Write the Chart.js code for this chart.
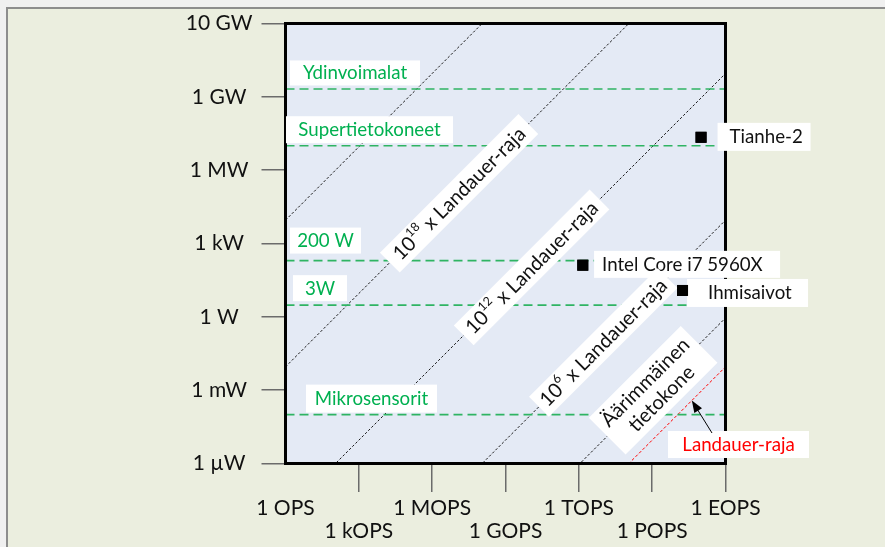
<!DOCTYPE html>
<html>
<head>
<meta charset="utf-8">
<script src="https://cdn.jsdelivr.net/npm/chart.js@4.4.1/dist/chart.umd.min.js"></script>
<style>
  html, body { margin: 0; padding: 0; background: #f0f0f0; overflow: hidden; }
  #frame { position: absolute; left: 6px; top: 7px; width: 900px; height: 560px;
           background: #ebeedf; border-top: 2px solid #8d8d8d; border-left: 2px solid #8d8d8d; }
  #wrap { position: absolute; left: 0; top: 0; width: 885px; height: 547px; }
</style>
</head>
<body>
<div id="frame"></div>
<div id="wrap"><canvas id="c" width="885" height="547"></canvas></div>
<script>
// Computing speed (operations per second) against power draw (W), both on log axes
const OPS_TICKS = [1, 1e3, 1e6, 1e9, 1e12, 1e15, 1e18];
const OPS_TICK_LABELS = ['1 OPS', '1 kOPS', '1 MOPS', '1 GOPS', '1 TOPS', '1 POPS', '1 EOPS'];
const POWER_TICKS = [1e-6, 1e-3, 1, 1e3, 1e6, 1e9, 1e12];
const POWER_TICK_LABELS = ['1 \u00b5W', '1 mW', '1 W', '1 kW', '1 MW', '1 GW', '10 GW'];

// Typical power levels (W)
const LEVEL_NAMES = ['Ydinvoimalat', 'Supertietokoneet', '200 W', '3W', 'Mikrosensorit'];
const LEVEL_WATTS = [2.1e9, 1e7, 200, 3, 1e-4];

// Landauer limit: energy per operation (J) and the multiples drawn as diagonals
const LANDAUER_JOULES = 9e-21;
const LIMIT_MULTIPLIERS = [1, 1e2, 1e6, 1e12, 1e18, 1e24];

// Individual systems
const SYSTEM_NAMES = ['Tianhe-2', 'Intel Core i7 5960X', 'Ihmisaivot'];
const SYSTEM_OPS = [1e17, 1.45e12, 1.75e16];
const SYSTEM_WATTS = [2.2e7, 130, 12];

// ---- styling and label layout ----
const GREEN = '#00b050';
const FONT = 'Lato';
const OPS_MIN = OPS_TICKS[0], OPS_MAX = OPS_TICKS[OPS_TICKS.length - 1];

// label boxes for the power levels: offset from plot's left edge, gap above the line
const levelBoxes = [
  { dx: 4.5,  w: 130, h: 25, gap: 3.5 },
  { dx: 0.5,  w: 167, h: 27, gap: 2.5 },
  { dx: 4.5,  w: 71,  h: 26, gap: 7 },
  { dx: 7.5,  w: 54,  h: 26, gap: 4 },
  { dx: 20.5, w: 131, h: 28, gap: 2 }
];
// label boxes next to the system markers (relative to the marker centre)
const systemBoxes = [
  { dx: 16.5, dy: -14.5, w: 93,  h: 28, pad: 12 },
  { dx: 11.3, dy: -14.3, w: 186, h: 27, pad: 8 },
  { dx: 4.5,  dy: -11.5, w: 121, h: 28, pad: 21 }
];
// labels laid along the diagonal lines
const limitLabels = [
  { mult: 1e18, atOps: 1.26e7,  w: 196, h: 28, lines: [[{ t: '10' }, { t: '18', sup: true }, { t: ' x Landauer-raja' }]] },
  { mult: 1e12, atOps: 1.17e10, w: 192, h: 28, lines: [[{ t: '10' }, { t: '12', sup: true }, { t: ' x Landauer-raja' }]] },
  { mult: 1e6,  atOps: 1.0e13,  w: 182, h: 28, lines: [[{ t: '10' }, { t: '6', sup: true }, { t: ' x Landauer-raja' }]] },
  { mult: 1e2,  atOps: 1.1e15,  w: 130, h: 52, lines: [[{ t: '\u00c4\u00e4rimm\u00e4inen' }], [{ t: 'tietokone' }]] }
];
const limitNote = { text: 'Landauer-raja', dx: -57.5, dy: -32.5, w: 141, h: 27, arrowOps: 4.2e16, tailDx: 44, tailDy: 2 };

// ---- datasets ----
const datasets = [];
datasets.push({
  type: 'scatter',
  data: SYSTEM_OPS.map((x, i) => ({ x, y: SYSTEM_WATTS[i] })),
  pointStyle: 'rect', pointRadius: 7.8, backgroundColor: '#000', borderColor: '#000', borderWidth: 0
});
LEVEL_WATTS.forEach(w => datasets.push({
  type: 'line',
  data: [{ x: OPS_MIN, y: w }, { x: OPS_MAX, y: w }],
  borderColor: '#2fb463', borderWidth: 1.6, borderDash: [9, 5], pointRadius: 0
}));
LIMIT_MULTIPLIERS.forEach(m => datasets.push({
  type: 'line',
  data: [{ x: OPS_MIN, y: m * LANDAUER_JOULES * OPS_MIN }, { x: OPS_MAX, y: m * LANDAUER_JOULES * OPS_MAX }],
  borderColor: m === 1 ? '#ff0000' : '#1a1a1a', borderWidth: 1, borderDash: m === 1 ? [3, 2] : [2.5, 2], pointRadius: 0
}));

// ---- drawing helpers ----
function whiteBox(ctx, x, y, w, h) { ctx.fillStyle = '#ffffff'; ctx.fillRect(x, y, w, h); }

function richWidth(ctx, segs, size) {
  let w = 0;
  segs.forEach(s => { ctx.font = (s.sup ? size * 0.62 : size) + 'px ' + FONT; w += ctx.measureText(s.t).width; });
  return w;
}
function drawRich(ctx, segs, cx, cy, size) {
  let x = cx - richWidth(ctx, segs, size) / 2;
  ctx.textAlign = 'left'; ctx.textBaseline = 'middle';
  segs.forEach(s => {
    ctx.font = (s.sup ? size * 0.62 : size) + 'px ' + FONT;
    ctx.fillText(s.t, x, s.sup ? cy - size * 0.38 : cy);
    x += ctx.measureText(s.t).width;
  });
}

const overlay = {
  id: 'overlay',
  beforeDraw(chart) {
    const { ctx, chartArea: a } = chart;
    ctx.save();
    ctx.fillStyle = '#e4eaf5';
    ctx.fillRect(a.left, a.top, a.width, a.height);
    ctx.restore();
  },
  afterDatasetsDraw(chart) {
    const { ctx, chartArea: a, scales: { x: xs, y: ys } } = chart;
    ctx.save();
    // plot frame
    ctx.strokeStyle = '#000'; ctx.lineWidth = 3;
    ctx.strokeRect(a.left, a.top, a.width, a.height);

    // power level captions
    LEVEL_NAMES.forEach((name, i) => {
      const b = levelBoxes[i];
      const ly = ys.getPixelForValue(LEVEL_WATTS[i]);
      const bx = a.left + b.dx, by = ly - b.gap - b.h;
      whiteBox(ctx, bx, by, b.w, b.h);
      ctx.fillStyle = GREEN; ctx.font = '18.7px ' + FONT;
      ctx.textAlign = 'center'; ctx.textBaseline = 'middle';
      ctx.fillText(name, bx + b.w / 2, by + b.h / 2 + 0.5);
    });

    // system captions
    SYSTEM_NAMES.forEach((name, i) => {
      const b = systemBoxes[i];
      const px = xs.getPixelForValue(SYSTEM_OPS[i]), py = ys.getPixelForValue(SYSTEM_WATTS[i]);
      const bx = px + b.dx, by = py + b.dy;
      whiteBox(ctx, bx, by, b.w, b.h);
      ctx.fillStyle = '#111'; ctx.font = '18.7px ' + FONT;
      ctx.textAlign = 'left'; ctx.textBaseline = 'middle';
      ctx.fillText(name, bx + b.pad, by + b.h / 2 + 0.5);
    });

    // labels along the diagonals
    limitLabels.forEach(l => {
      const e = l.mult * LANDAUER_JOULES;
      const cx = xs.getPixelForValue(l.atOps), cy = ys.getPixelForValue(e * l.atOps);
      const x2 = xs.getPixelForValue(l.atOps * 10), y2 = ys.getPixelForValue(e * l.atOps * 10);
      const ang = Math.atan2(y2 - cy, x2 - cx);
      ctx.save();
      ctx.translate(cx, cy); ctx.rotate(ang);
      whiteBox(ctx, -l.w / 2, -l.h / 2, l.w, l.h);
      ctx.fillStyle = '#111';
      const n = l.lines.length, lh = 23;
      l.lines.forEach((segs, k) => drawRich(ctx, segs, 0, (k - (n - 1) / 2) * lh + 0.5, 20));
      ctx.restore();
    });

    // system markers stay on top of the caption boxes
    const pts = chart.getDatasetMeta(0).data;
    ctx.fillStyle = '#000';
    pts.forEach(p => ctx.fillRect(p.x - 5.5, p.y - 5.5, 11, 11));

    // Landauer limit note with arrow
    const nx = a.right + limitNote.dx, ny = a.bottom + limitNote.dy;
    whiteBox(ctx, nx, ny, limitNote.w, limitNote.h);
    ctx.fillStyle = '#ff0000'; ctx.font = '18.7px ' + FONT;
    ctx.textAlign = 'center'; ctx.textBaseline = 'middle';
    ctx.fillText(limitNote.text, nx + limitNote.w / 2, ny + limitNote.h / 2 + 0.5);
    const tx = nx + limitNote.tailDx, ty = ny + limitNote.tailDy;
    const hx = xs.getPixelForValue(limitNote.arrowOps), hy = ys.getPixelForValue(LANDAUER_JOULES * limitNote.arrowOps);
    const ang = Math.atan2(hy - ty, hx - tx);
    ctx.strokeStyle = '#000'; ctx.lineWidth = 1; ctx.setLineDash([]);
    ctx.beginPath(); ctx.moveTo(tx, ty); ctx.lineTo(hx - Math.cos(ang) * 8, hy - Math.sin(ang) * 8); ctx.stroke();
    ctx.fillStyle = '#000';
    ctx.beginPath();
    ctx.moveTo(hx, hy);
    ctx.lineTo(hx - Math.cos(ang) * 12 + Math.sin(ang) * 4.5, hy - Math.sin(ang) * 12 - Math.cos(ang) * 4.5);
    ctx.lineTo(hx - Math.cos(ang) * 12 - Math.sin(ang) * 4.5, hy - Math.sin(ang) * 12 + Math.cos(ang) * 4.5);
    ctx.closePath(); ctx.fill();
    ctx.restore();
  }
};

new Chart(document.getElementById('c'), {
  type: 'scatter',
  data: { datasets },
  plugins: [overlay],
  options: {
    responsive: false, devicePixelRatio: 1, animation: false,
    layout: { padding: { left: 0, right: 159.5, top: 23.5, bottom: 0 } },
    plugins: { legend: { display: false }, tooltip: { enabled: false } },
    scales: {
      x: {
        type: 'logarithmic', position: 'bottom', min: OPS_MIN, max: OPS_MAX,
        afterBuildTicks: s => { s.ticks = OPS_TICKS.map(v => ({ value: v })); },
        afterFit: s => { s.height = 83.5; },
        border: { display: false },
        grid: {
          drawOnChartArea: false, tickLength: 28.5, lineWidth: 1.5,
          color: c => (c.tick && c.tick.value === OPS_MIN) ? 'rgba(0,0,0,0)' : '#6b6b6b'
        },
        ticks: {
          autoSkip: false, maxRotation: 0, minRotation: 0, padding: 4.5, color: '#111',
          font: { family: FONT, size: 21, lineHeight: 1.1 },
          callback: (v, i) => (i % 2 ? ['', OPS_TICK_LABELS[i]] : OPS_TICK_LABELS[i])
        }
      },
      y: {
        type: 'logarithmic', position: 'left', min: POWER_TICKS[0], max: POWER_TICKS[POWER_TICKS.length - 1],
        afterBuildTicks: s => { s.ticks = POWER_TICKS.map(v => ({ value: v })); },
        afterFit: s => { s.width = 285.5; },
        border: { display: false },
        grid: { drawOnChartArea: false, tickLength: 24, lineWidth: 1.5, color: '#6b6b6b' },
        ticks: {
          crossAlign: 'center', padding: 9, color: '#111',
          font: { family: FONT, size: 21 },
          callback: (v, i) => POWER_TICK_LABELS[i]
        }
      }
    }
  }
});
</script>
</body>
</html>
